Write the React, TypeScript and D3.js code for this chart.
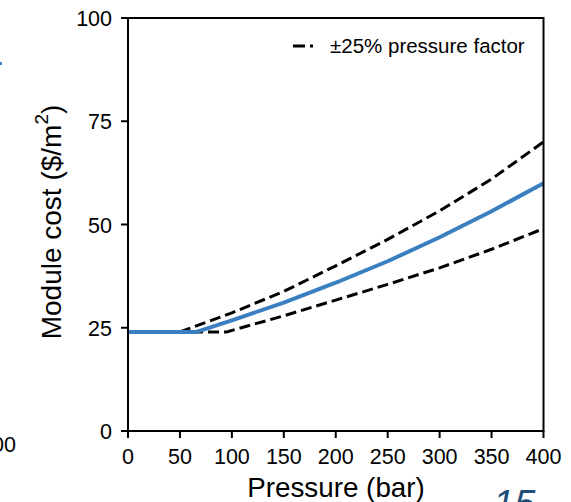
import React from "react";
import * as d3 from "d3";

const xTicks = [0, 50, 100, 150, 200, 250, 300, 350, 400];
const yTicks = [0, 25, 50, 75, 100];

const basePressure = [0, 66, 100, 150, 200, 250, 300, 350, 400];
const baseCost = [24, 24, 26.8, 31.1, 35.9, 41.1, 46.9, 53.2, 60];

const upperPressure = [50, 100, 150, 200, 250, 300, 350, 400];
const upperCost = [24, 28.6, 33.8, 40.0, 46.4, 53.3, 61.0, 70];

const lowerPressure = [0, 95, 150, 200, 250, 300, 350, 400];
const lowerCost = [24, 24, 27.9, 31.7, 35.5, 39.5, 44.0, 49.0];

const legendLabel = "±25% pressure factor";

export default function App() {
  const W = 571, H = 502;
  const x = d3.scaleLinear().domain([0, 400]).range([128, 543.5]);
  const y = d3.scaleLinear().domain([0, 100]).range([431, 18]);
  const line = d3
    .line<[number, number]>()
    .x((d) => x(d[0]))
    .y((d) => y(d[1]))
    .curve(d3.curveLinear);
  const zip = (a: number[], b: number[]) => a.map((v, i) => [v, b[i]] as [number, number]);
  const font = "'Liberation Sans', Arial, sans-serif";
  return (
    <svg width={W} height={H} style={{ position: "absolute", left: 0, top: 0 }} fontFamily={font}>
      <rect width={W} height={H} fill="#fff" />
      {/* neighbouring panel fragments */}
      <text x={16} y={452} fontSize={21.5} textAnchor="end">400</text>
      <rect x={0} y={62} width={2} height={3} fill="#3a7fc0" />
      <text x={493} y={517} fontSize={38} fill="#1f4e79" fontStyle="italic">15</text>

      <path d={line(zip(upperPressure, upperCost)) || ""} fill="none" stroke="#000" strokeWidth={3} strokeDasharray="11,5" />
      <path d={line(zip(lowerPressure, lowerCost)) || ""} fill="none" stroke="#000" strokeWidth={3} strokeDasharray="11,5" />
      <path d={line(zip(basePressure, baseCost)) || ""} fill="none" stroke="#3a7fc0" strokeWidth={4} strokeLinejoin="round" />

      <rect x={128} y={18} width={415.5} height={413} fill="none" stroke="#000" strokeWidth={2} />
      {xTicks.map((t) => (
        <g key={"x" + t}>
          <line x1={x(t)} x2={x(t)} y1={431} y2={438} stroke="#000" strokeWidth={2} />
          <text x={x(t)} y={464} fontSize={21.5} textAnchor="middle">{t}</text>
        </g>
      ))}
      {yTicks.map((t) => (
        <g key={"y" + t}>
          <line x1={121} x2={128} y1={y(t)} y2={y(t)} stroke="#000" strokeWidth={2} />
          <text x={112} y={y(t) + 8} fontSize={21.5} textAnchor="end">{t}</text>
        </g>
      ))}
      <text x={336} y={497} fontSize={27.8} textAnchor="middle">Pressure (bar)</text>
      <text transform="translate(61,222) rotate(-90)" fontSize={28} textAnchor="middle">
        Module cost ($/m<tspan fontSize={19} dy={-13}>2</tspan><tspan dy={13}>)</tspan>
      </text>

      <line x1={293} x2={313} y1={46} y2={46} stroke="#000" strokeWidth={3} strokeDasharray="12,5" />
      <text x={330} y={53} fontSize={20.5}>{legendLabel}</text>
    </svg>
  );
}
